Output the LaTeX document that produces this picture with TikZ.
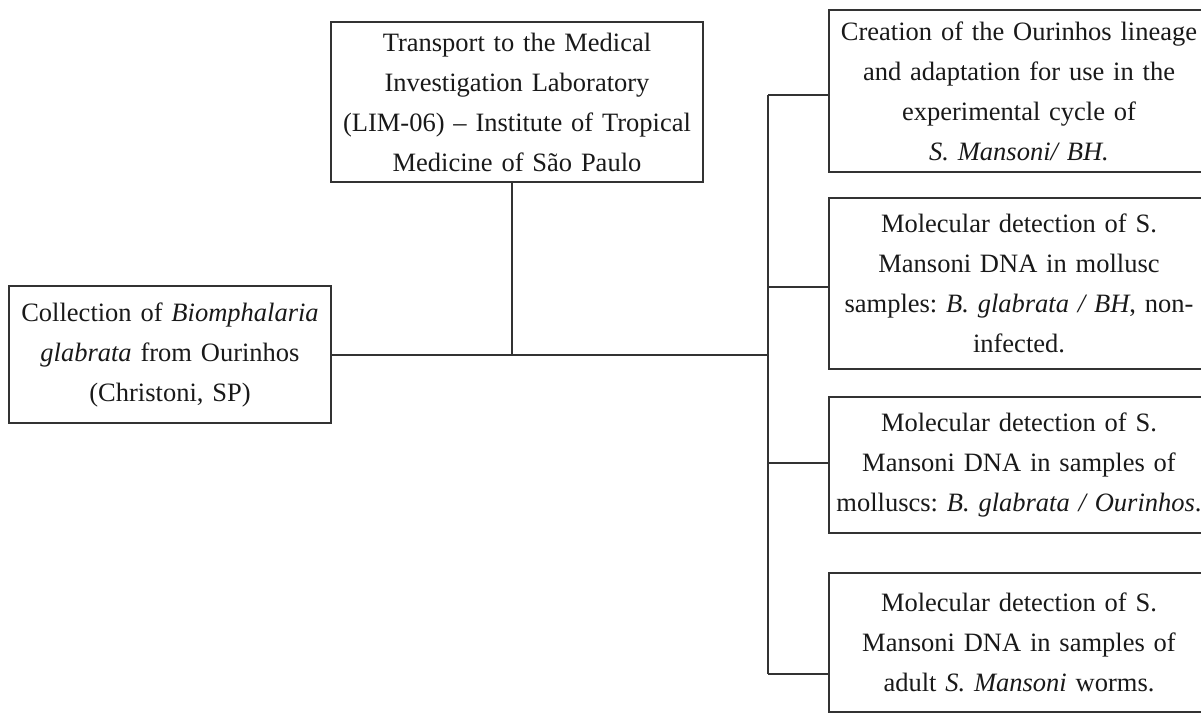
\documentclass[tikz,border=0pt]{standalone}
\usepackage{fontspec}
\setmainfont{Liberation Serif}
\frenchspacing
\begin{document}
\begin{tikzpicture}[x=1pt,y=-1pt,
  box/.style={draw=black!80, line width=2.2pt, rectangle, align=center,
    inner xsep=2pt, inner ysep=0pt, text=black!90,
    font=\fontsize{26.5}{40}\selectfont\frenchspacing},
  conn/.style={draw=black!80, line width=2pt}]
\clip (0,0) rectangle (1201,713);
\fill[white] (0,0) rectangle (1201,713);
% boxes
\node[box, text width=318pt, minimum height=137pt] (left) at (170,354.5)
  {Collection of \textit{Biomphalaria}\\ \textit{glabrata} from Ourinhos\\ (Christoni, SP)};
\node[box, text width=368pt, minimum height=160pt] (top) at (517,102)
  {Transport to the Medical\\ Investigation Laboratory\\ (LIM-06) -- Institute of Tropical\\ Medicine of São Paulo};
\node[box, text width=376pt, minimum height=162pt] (r1) at (1019,91)
  {Creation of the Ourinhos lineage\\ and adaptation for use in the\\ experimental cycle of\\ \textit{S. Mansoni/ BH.}};
\node[box, text width=376pt, minimum height=171pt] (r2) at (1019,283.5)
  {Molecular detection of S.\\ Mansoni DNA in mollusc\\ samples: \textit{B. glabrata / BH}, non-\\ infected.};
\node[box, text width=376pt, minimum height=136pt] (r3) at (1019,465)
  {Molecular detection of S.\\ Mansoni DNA in samples of\\ molluscs: \textit{B. glabrata / Ourinhos}.};
\node[box, text width=376pt, minimum height=139pt] (r4) at (1019,642.5)
  {Molecular detection of S.\\ Mansoni DNA in samples of\\ adult \textit{S. Mansoni} worms.};
% junction coordinates
\coordinate (jt) at (512,355);
\coordinate (jr) at (768,355);
\coordinate (b1) at (768,95);
\coordinate (b2) at (768,287);
\coordinate (b3) at (768,463);
\coordinate (b4) at (768,674);
% connectors
\draw[conn] (left.east |- jr) -- (jr);
\draw[conn] (jt |- top.south) -- (jt);
\draw[conn] (b1) -- (b4);
\draw[conn] (b1) -- (b1 -| r1.west);
\draw[conn] (b2) -- (b2 -| r2.west);
\draw[conn] (b3) -- (b3 -| r3.west);
\draw[conn] (b4) -- (b4 -| r4.west);
\end{tikzpicture}
\end{document}
